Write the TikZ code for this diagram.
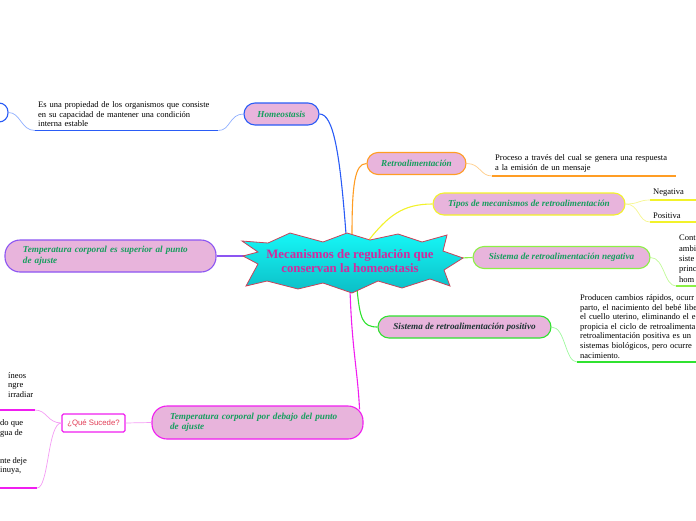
\documentclass[tikz,border=0pt]{standalone}
\usepackage{fontspec}
\setmainfont{Liberation Serif}
\newfontfamily\quesans{Liberation Sans}
\hyphenpenalty=10000
\definecolor{pillfill}{HTML}{E8B4DC}
\definecolor{topictext}{HTML}{169E5E}
\definecolor{titletext}{HTML}{D22A9E}
\definecolor{starline}{HTML}{C8435A}
\definecolor{startop}{HTML}{16F6F6}
\definecolor{starbot}{HTML}{0CBEC6}
\definecolor{cblue}{HTML}{2A5CF6}
\definecolor{lblue}{HTML}{8EAEFF}
\definecolor{corange}{HTML}{FF9D24}
\definecolor{lorange}{HTML}{FFCC88}
\definecolor{cyellow}{HTML}{F2F22A}
\definecolor{lyellow}{HTML}{F6F690}
\definecolor{clime}{HTML}{8CF046}
\definecolor{llime}{HTML}{C0FA96}
\definecolor{cgreen}{HTML}{30E230}
\definecolor{lgreen}{HTML}{9CF89C}
\definecolor{cpurple}{HTML}{8C55F2}
\definecolor{cmagenta}{HTML}{F01EF0}
\definecolor{lmagenta}{HTML}{F49CF4}
\definecolor{quetext}{HTML}{E23C55}
\definecolor{darktext}{HTML}{1E3434}

\begin{document}
\begin{tikzpicture}[
  x=1pt, y=-1pt,
  font=\fontsize{8.5}{9.6}\selectfont,
  topic/.style={rounded corners=11pt, draw, line width=1.1pt, fill=pillfill, text=topictext,
                minimum height=22pt, inner sep=2pt, align=center,
                font=\fontsize{9.2}{10.5}\selectfont\bfseries\itshape},
  twoline/.style={topic, rounded corners=15pt, align=left, text width=175pt, inner xsep=18pt},
  leaf/.style={anchor=south west, align=left, inner xsep=3pt, inner ysep=3.5pt},
  link/.style={line width=1.1pt},
  twig/.style={line width=0.7pt},
  uline/.style={line width=1.7pt}
]
  \useasboundingbox (0,0) rectangle (696,520);
  \clip (0,0) rectangle (696,520);

  % points on the star where the main links start
  \coordinate (shomeo) at (346,234);
  \coordinate (sretro) at (352,236);
  \coordinate (stipos) at (368,241);
  \coordinate (snegat) at (460,258);
  \coordinate (sposit) at (357,289);
  \coordinate (sdeb) at (350,290);
  \coordinate (ssup) at (246,256);

  % topics
  \node[topic, draw=cblue, minimum width=75pt] (homeo) at (281.5,114) {Homeostasis};
  \node[topic, draw=corange, minimum width=99pt] (retro) at (416.5,163.5) {Retroalimentación};
  \node[topic, draw=cyellow, minimum width=192pt] (tipos) at (529,204) {Tipos de mecanismos de retroalimentación};
  \node[topic, draw=clime, minimum width=177pt] (negat) at (561.5,257.5) {Sistema de retroalimentación negativa};
  \node[topic, draw=cgreen, minimum width=173pt, text=darktext] (posit) at (464.5,327) {Sistema de retroalimentación positivo};
  \node[twoline, draw=cpurple, minimum height=32pt] (sup) at (110.5,256) {Temperatura corporal es superior al punto\\de ajuste};
  \node[twoline, draw=cmagenta, minimum height=33pt] (deb) at (257.5,422.5) {Temperatura corporal por debajo del punto\\de ajuste};
  \node[draw=cmagenta, line width=1.1pt, rounded corners=1.5pt, fill=white, minimum width=63pt, minimum height=18pt,
        inner sep=1pt, text=quetext, font=\quesans\fontsize{7.8}{9}\selectfont] (que) at (93.5,423) {¿Qué Sucede?};
  \node[draw=cblue, line width=1.1pt, rounded corners=9pt, fill=white, minimum width=60pt, minimum height=19pt] (cut) at (-22,112.5) {};
  \coordinate (debin) at ([shift={(-4pt,-4pt)}]deb.north east);

  % leaves
  \node[leaf, text width=177pt] (homeotxt) at (35,130.5) {Es una propiedad de los organismos que consiste\\en su capacidad de mantener una condición\\interna estable};
  \node[leaf, text width=178pt] (retrotxt) at (492,176) {Proceso a través del cual se genera una respuesta\\a la emisión de un mensaje};
  \foreach \nm/\txt/\y in {negativa/Negativa/200, positiva/Positiva/222} {
    \node[leaf, text width=54pt] (\nm) at (650,\y) {\txt};
    \draw[uline, draw=cyellow] (\nm.south west) -- (\nm.south east);
    \draw[twig, draw=lyellow] (tipos.east) .. controls +(14,0) and +(-12,0) .. (\nm.south west);
  }
  \node[leaf, text width=60pt, font=\fontsize{8.5}{10.4}\selectfont] (negtxt) at (676,286) {Cont\\ambi\\siste\\princ\\hom};
  \node[leaf, text width=150pt] (postxt) at (577,362) {Producen cambios rápidos, ocurr\\parto, el nacimiento del bebé libe\\el cuello uterino, eliminando el e\\propicia el ciclo de retroalimenta\\retroalimentación positiva es un\\sistemas biológicos, pero ocurre\\nacimiento.};
  \node[leaf] (leftup) at (5,401) {íneos\\ngre\\irradiar};
  \node[leaf] (leftmid) at (-3,441) {do que\\gua de};
  \node[leaf] (leftlow) at (-3,478.5) {nte deje\\inuya,};
  \coordinate (ltop) at (35,410);
  \coordinate (lbot) at (37,488);

  % thin links and underlines
  \draw[twig, draw=lblue] (homeo.west) .. controls +(-14,0) and +(12,0) .. (homeotxt.south east);
  \draw[twig, draw=lblue] (homeotxt.south west) .. controls +(-14,0) and +(12,0) .. (cut.east);
  \draw[uline, draw=cblue] (homeotxt.south west) -- (homeotxt.south east);
  \draw[twig, draw=lorange] (retro.east) .. controls +(14,0) and +(-12,0) .. (retrotxt.south west);
  \draw[uline, draw=corange] (retrotxt.south west) -- (retrotxt.south east);
  \draw[twig, draw=llime] (negat.east) .. controls +(14,0) and +(-12,0) .. (negtxt.south west);
  \draw[uline, draw=clime] (negtxt.south west) -- (negtxt.south east);
  \draw[twig, draw=lgreen] (posit.east) .. controls +(14,0) and +(-12,0) .. (postxt.south west);
  \draw[uline, draw=cgreen] (postxt.south west) -- (postxt.south east);
  \draw[twig, draw=lmagenta] (deb.west) -- (que.east);
  \draw[twig, draw=lmagenta] (que.west) .. controls +(-14,0) and +(12,0) .. (ltop);
  \draw[twig, draw=lmagenta] (que.west) .. controls +(-14,0) and +(12,0) .. (lbot);
  \draw[uline, draw=cmagenta] (ltop) -- ++(-40,0);
  \draw[uline, draw=cmagenta] (lbot) -- ++(-40,0);

  % main links
  \draw[link, draw=cblue] (shomeo) .. controls +(-6,-80) and +(14,0) .. (homeo.east);
  \draw[link, draw=corange] (sretro) .. controls +(0,-50) and +(-12,0) .. (retro.west);
  \draw[link, draw=cyellow] (stipos) .. controls +(20,-25) and +(-30,0) .. (tipos.west);
  \draw[link, draw=clime] (snegat) -- (negat.west);
  \draw[link, draw=cgreen] (sposit) .. controls +(3,30) and +(-15,0) .. (posit.west);
  \draw[link, draw=cpurple] (sup.east) -- (ssup);
  \draw[link, draw=cmagenta] (sdeb) .. controls +(2,60) and +(-2,-40) .. (debin);

  % central star
  \draw[draw=starline, line width=0.8pt, top color=startop, bottom color=starbot]
    (242,241) -- (268,243) -- (290,233) -- (323,242) -- (347,233) -- (370,240) -- (398,234)
    -- (422,242) -- (447,235) -- (443,251) -- (463,258) -- (444,270) -- (450,286) -- (430,279)
    -- (402,288) -- (378,281) -- (352,293) -- (323,283) -- (298,289) -- (267,281) -- (246,286)
    -- (258,264) -- (243,256) -- (258,252) -- cycle;
  \node[text=titletext, align=center, font=\fontsize{12.8}{14}\selectfont\bfseries] (main) at (350,261)
    {Mecanismos de regulación que\\conservan la homeostasis};
\end{tikzpicture}
\end{document}
